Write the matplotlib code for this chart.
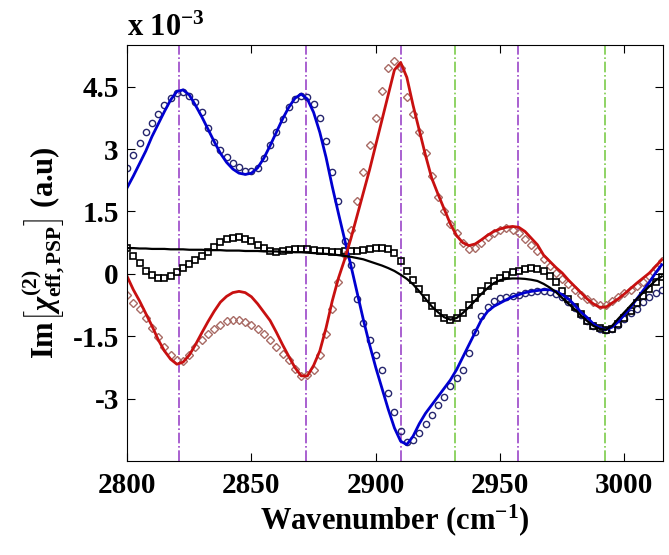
import numpy as np
import matplotlib
matplotlib.use("Agg")
import matplotlib.pyplot as plt

plt.rcParams['font.family'] = 'Liberation Serif'
plt.rcParams['font.weight'] = 'bold'
plt.rcParams['mathtext.fontset'] = 'custom'
plt.rcParams['mathtext.rm'] = 'Liberation Serif:bold'
plt.rcParams['mathtext.bf'] = 'Liberation Serif:bold'
plt.rcParams['mathtext.it'] = 'Liberation Serif:bold:italic'

# wavenumber grid (cm-1), values in units of 1e-3
wn = np.arange(2800, 3015.1, 2.5)

blue_fit = [2.07, 2.35, 2.65, 2.95, 3.30, 3.60, 3.90, 4.18, 4.38, 4.42,
            4.30, 4.05, 3.78, 3.48, 3.18, 2.90, 2.68, 2.52, 2.42, 2.39,
            2.42, 2.55, 2.78, 3.08, 3.40, 3.72, 4.00, 4.22, 4.32, 4.20,
            3.88, 3.40, 2.80, 2.10, 1.45, 0.82, 0.20, -0.45, -1.10, -1.70,
            -2.25, -2.75, -3.25, -3.70, -4.02, -4.10, -3.90, -3.60, -3.35, -3.15,
            -2.95, -2.75, -2.55, -2.30, -2.00, -1.70, -1.40, -1.10, -0.90, -0.78,
            -0.70, -0.62, -0.55, -0.50, -0.45, -0.42, -0.40, -0.38, -0.38, -0.42,
            -0.50, -0.60, -0.75, -0.92, -1.05, -1.20, -1.30, -1.34, -1.28, -1.15,
            -0.98, -0.80, -0.60, -0.40, -0.20, 0.02, 0.22]

blue_data = [2.55, 2.85, 3.15, 3.40, 3.62, 3.85, 4.05, 4.22, 4.34, 4.36,
             4.28, 4.12, 3.90, 3.50, 3.18, 2.97, 2.80, 2.67, 2.56, 2.48,
             2.47, 2.55, 2.78, 3.10, 3.42, 3.72, 4.00, 4.20, 4.28, 4.26,
             4.08, 3.75, 3.20, 2.45, 1.75, 0.78, 0.22, -0.60, -1.18, -1.60,
             -1.95, -2.30, -2.85, -3.32, -3.78, -4.03, -4.00, -3.82, -3.60, -3.38,
             -3.15, -2.95, -2.70, -2.50, -2.30, -1.90, -1.40, -1.00, -0.80, -0.65,
             -0.58, -0.55, -0.52, -0.50, -0.47, -0.44, -0.42, -0.42, -0.44, -0.48,
             -0.56, -0.68, -0.82, -0.98, -1.12, -1.25, -1.32, -1.35, -1.32, -1.22,
             -1.08, -0.95, -0.84, -0.68, -0.55, -0.45, -0.38]

red_fit = [-0.06, -0.38, -0.65, -0.95, -1.25, -1.58, -1.85, -2.05, -2.17, -2.12,
           -1.95, -1.70, -1.42, -1.15, -0.90, -0.68, -0.54, -0.45, -0.42, -0.45,
           -0.55, -0.72, -0.92, -1.12, -1.40, -1.70, -1.98, -2.25, -2.45, -2.45,
           -2.20, -1.85, -1.30, -0.65, -0.10, 0.35, 0.85, 1.40, 1.95, 2.50,
           3.10, 3.70, 4.30, 4.90, 5.08, 4.72, 4.05, 3.45, 2.85, 2.30,
           1.92, 1.56, 1.20, 0.92, 0.75, 0.68, 0.72, 0.82, 0.93, 1.02,
           1.08, 1.12, 1.14, 1.12, 1.02, 0.86, 0.70, 0.45, 0.30, 0.15,
           0.02, -0.15, -0.30, -0.45, -0.60, -0.72, -0.80, -0.80, -0.70, -0.60,
           -0.48, -0.35, -0.22, -0.10, 0.02, 0.18, 0.34]

red_data = [-0.50, -0.70, -0.85, -1.05, -1.30, -1.52, -1.75, -1.95, -2.08, -2.10,
            -1.95, -1.75, -1.58, -1.45, -1.32, -1.22, -1.14, -1.10, -1.10, -1.15,
            -1.23, -1.33, -1.45, -1.58, -1.75, -1.92, -2.08, -2.28, -2.45, -2.42,
            -2.30, -1.95, -1.45, -0.85, -0.20, 0.45, 1.05, 1.75, 2.45, 3.10,
            3.75, 4.40, 4.95, 5.12, 4.95, 4.25, 3.85, 3.40, 2.90, 2.35,
            1.85, 1.50, 1.20, 0.98, 0.75, 0.60, 0.62, 0.75, 0.88, 0.98,
            1.05, 1.10, 1.06, 0.98, 0.85, 0.70, 0.55, 0.35, 0.18, 0.02,
            -0.12, -0.25, -0.38, -0.50, -0.60, -0.68, -0.74, -0.74, -0.66, -0.56,
            -0.46, -0.38, -0.30, -0.20, -0.05, 0.15, 0.32]

black_fit = [0.62, 0.62, 0.61, 0.61, 0.60, 0.60, 0.60, 0.59, 0.59, 0.59,
             0.58, 0.58, 0.58, 0.57, 0.57, 0.57, 0.56, 0.56, 0.56, 0.55,
             0.55, 0.55, 0.54, 0.54, 0.54, 0.53, 0.53, 0.52, 0.52, 0.51,
             0.50, 0.49, 0.48, 0.47, 0.45, 0.43, 0.41, 0.38, 0.35, 0.30,
             0.25, 0.20, 0.14, 0.07, -0.02, -0.12, -0.25, -0.42, -0.60, -0.78,
             -0.92, -1.04, -1.10, -1.06, -0.94, -0.80, -0.64, -0.48, -0.34, -0.22,
             -0.15, -0.12, -0.11, -0.11, -0.12, -0.14, -0.17, -0.24, -0.33, -0.44,
             -0.58, -0.72, -0.85, -1.00, -1.13, -1.25, -1.32, -1.34, -1.25, -1.08,
             -0.92, -0.76, -0.60, -0.45, -0.30, -0.16, -0.06]

black_data = [0.63, 0.42, 0.25, 0.08, -0.03, -0.09, -0.10, -0.06, 0.04, 0.14,
              0.24, 0.34, 0.43, 0.53, 0.64, 0.76, 0.83, 0.87, 0.88, 0.85,
              0.78, 0.70, 0.62, 0.55, 0.53, 0.55, 0.58, 0.59, 0.59, 0.59,
              0.58, 0.55, 0.54, 0.53, 0.53, 0.54, 0.54, 0.56, 0.58, 0.61,
              0.63, 0.63, 0.61, 0.50, 0.30, 0.08, -0.15, -0.37, -0.58, -0.78,
              -0.95, -1.06, -1.10, -1.06, -0.94, -0.75, -0.58, -0.42, -0.28, -0.17,
              -0.09, -0.02, 0.04, 0.08, 0.11, 0.13, 0.12, 0.06, -0.04, -0.20,
              -0.40, -0.60, -0.80, -0.97, -1.12, -1.24, -1.30, -1.34, -1.32, -1.20,
              -1.05, -0.88, -0.70, -0.52, -0.36, -0.20, -0.08]

purple_lines = [2821, 2872, 2910, 2957]
green_lines = [2932, 2992]

fig = plt.figure(figsize=(6.69, 5.55), dpi=100)
ax = fig.add_axes([0.19, 0.169, 0.801, 0.75])

for x in purple_lines:
    ax.axvline(x, color='#9b45c8', linestyle='-.', linewidth=1.2, zorder=1)
for x in green_lines:
    ax.axvline(x, color='#7ccc4a', linestyle='-.', linewidth=1.2, zorder=1)

ax.plot(wn, blue_data, 'o', mfc='none', mec='#26266e', ms=4.5, mew=1.0)
ax.plot(wn, red_data, 'D', mfc='none', mec='#a86a64', ms=3.8, mew=1.0)
ax.plot(wn, black_data, 's', mfc='none', mec='black', ms=4.5, mew=1.2)
ax.plot(wn, blue_fit, color='#0000d0', linewidth=2.0)
ax.plot(wn, red_fit, color='#c81010', linewidth=2.0)
ax.plot(wn, black_fit, color='black', linewidth=1.6)

ax.set_xlim(2800, 3015.5)
ax.set_ylim(-4.5, 5.5)
ax.set_xticks([2800, 2850, 2900, 2950, 3000])
ax.set_yticks([-3, -1.5, 0, 1.5, 3, 4.5])
ax.set_yticklabels(['-3', '-1.5', '0', '1.5', '3', '4.5'])
ax.tick_params(direction='in', top=True, right=True, length=6, labelsize=21)
ax.tick_params(axis='x', pad=8)
ax.tick_params(axis='y', pad=6)

ax.set_xlabel(r'Wavenumber (cm$^{-1}$)', fontsize=22, fontweight='bold', labelpad=2)
ax.set_ylabel(r'Im$\left[\chi^{(2)}_{\mathrm{eff,PSP}}\right]$ (a.u)', fontsize=22,
              fontweight='bold', labelpad=4)

fig.text(0.19, 0.935, r'x 10$^{-3}$', fontsize=22, fontweight='bold', ha='left', va='baseline')

plt.savefig("out.png")
